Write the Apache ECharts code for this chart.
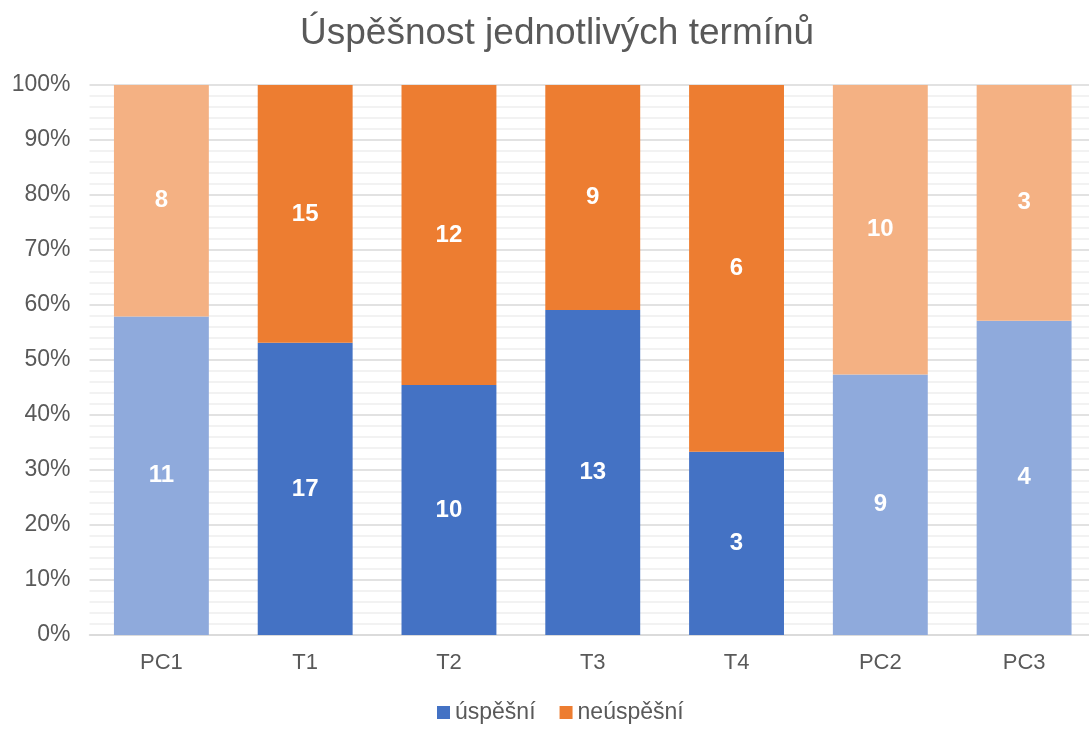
<!DOCTYPE html>
<html><head><meta charset="utf-8">
<script src="https://cdn.jsdelivr.net/npm/echarts@6/dist/echarts.min.js"></script>
<style>html,body{margin:0;padding:0;background:#fff;overflow:hidden}#c{width:1096px;height:729px}</style>
</head><body><div id="c"></div>
<script>
const categories = ['PC1', 'T1', 'T2', 'T3', 'T4', 'PC2', 'PC3'];
const uspesni = [11, 17, 10, 13, 3, 9, 4];
const neuspesni = [8, 15, 12, 9, 6, 10, 3];
const yTicks = [0, 10, 20, 30, 40, 50, 60, 70, 80, 90, 100];

const lightCats = { PC1: 1, PC2: 1, PC3: 1 };
const font = '"Liberation Sans", Arial, sans-serif';

function build(vals, other, dark, light) {
  return vals.map((v, i) => ({
    value: v / (v + other[i]) * 100,
    count: v,
    itemStyle: { color: lightCats[categories[i]] ? light : dark }
  }));
}

const chart = echarts.init(document.getElementById('c'), null, { renderer: 'canvas' });
const labelCfg = {
  show: true, position: 'inside', color: '#fff', fontWeight: 'bold',
  fontSize: 24, fontFamily: font,
  formatter: p => p.data.count
};
chart.setOption({
  animation: false,
  backgroundColor: '#fff',
  title: {
    text: 'Úspěšnost jednotlivých termínů', left: 295, top: 10,
    textStyle: { fontFamily: font, fontSize: 37, fontWeight: 'normal', color: '#595959' }
  },
  legend: {
    bottom: 0, left: 432, itemWidth: 13, itemHeight: 13, itemGap: 24,
    icon: 'rect',
    textStyle: { fontFamily: font, fontSize: 23, color: '#595959' },
    data: [
      { name: 'úspěšní', itemStyle: { color: '#4472C4' } },
      { name: 'neúspěšní', itemStyle: { color: '#ED7D31' } }
    ]
  },
  grid: { left: 89.5, top: 85, right: 0, height: 550, containLabel: false },
  xAxis: {
    type: 'category', data: categories,
    axisLine: { lineStyle: { color: '#d9d9d9', width: 1.5 } },
    axisTick: { show: false },
    axisLabel: { fontFamily: font, fontSize: 22, color: '#595959', margin: 17 }
  },
  yAxis: {
    type: 'value', min: 0, max: 100, interval: 10,
    axisLine: { show: false }, axisTick: { show: false },
    axisLabel: { fontFamily: font, fontSize: 23, color: '#595959', margin: 19,
      formatter: v => yTicks.includes(v) ? v + '%' : '' },
    splitLine: { lineStyle: { color: '#d9d9d9', width: 1.5 } },
    minorTick: { show: false, splitNumber: 5 },
    minorSplitLine: { show: true, lineStyle: { color: '#eeeeee', width: 1.5 } }
  },
  series: [
    { name: 'úspěšní', type: 'bar', stack: 'a', barCategoryGap: '34%',
      data: build(uspesni, neuspesni, '#4472C4', '#8FAADC'), label: labelCfg },
    { name: 'neúspěšní', type: 'bar', stack: 'a', barCategoryGap: '34%',
      data: build(neuspesni, uspesni, '#ED7D31', '#F4B183'), label: labelCfg }
  ]
});
</script></body></html>
